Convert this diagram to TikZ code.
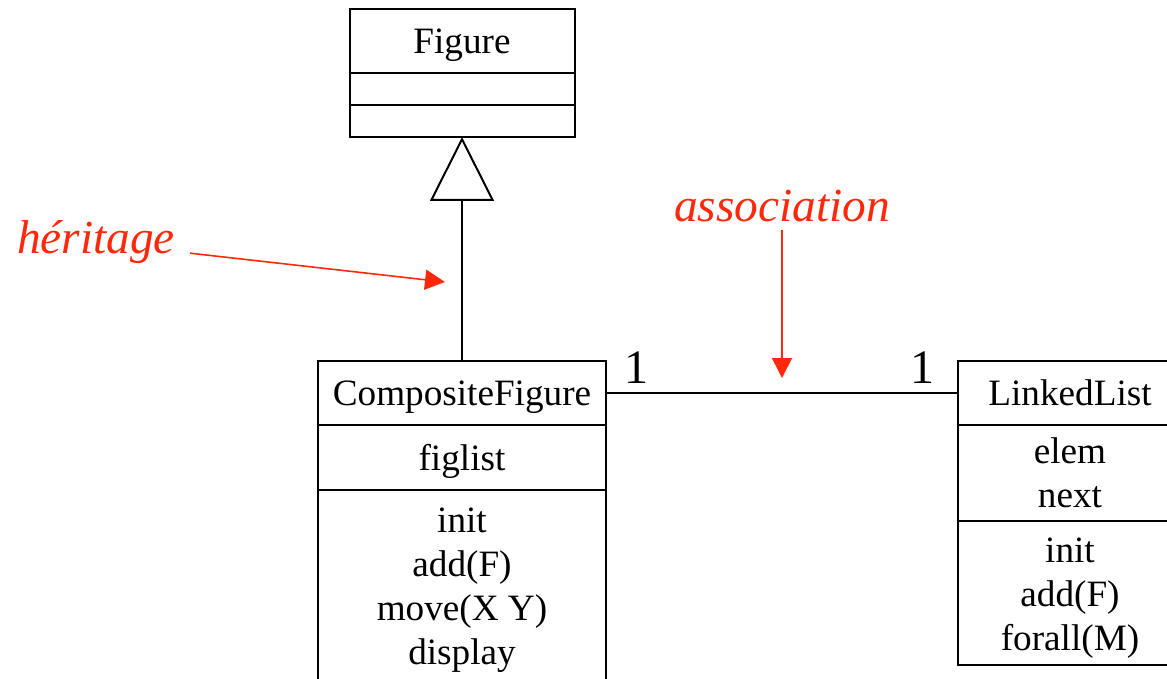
\documentclass[tikz,border=0pt]{standalone}
\usepackage{fontspec}
\setmainfont{Liberation Serif}
\usetikzlibrary{arrows.meta, positioning}
\definecolor{notered}{RGB}{255,40,10}
\newcommand{\topstrut}{\rule{0pt}{17pt}}

\begin{document}
\begin{tikzpicture}[
    x=0.5pt, y=-0.5pt,
    node distance=0pt,
    part/.style={rectangle, draw, line width=1pt, outer sep=0pt, inner sep=2pt, align=center, font=\fontsize{18.6}{22}\selectfont},
    mult/.style={anchor=base, font=\fontsize{24}{28}\selectfont},
    note/.style={anchor=base, text=notered, font=\fontsize{23.7}{28}\selectfont\itshape},
    notearrow/.style={draw=notered, line width=0.8pt, -{Triangle[length=10pt,width=10pt]}},
    inherit/.style={line width=1pt, -{Triangle[open,length=32pt,width=32pt]}},
    link/.style={line width=1pt}
]
\useasboundingbox (0,0) rectangle (1167,679);

% Figure
\node[part, minimum width=112.5pt, minimum height=32pt] (fig) at (462,41) {\topstrut Figure};
\node[part, minimum width=112.5pt, minimum height=16pt, below=of fig] (figattr) {};
\node[part, minimum width=112.5pt, minimum height=16pt, below=of figattr] (figops) {};

% CompositeFigure
\node[part, minimum width=144pt, minimum height=32pt] (comp) at (462,393) {\topstrut CompositeFigure};
\node[part, minimum width=144pt, minimum height=32.5pt, below=of comp] (compattr) {\topstrut figlist};
\node[part, minimum width=144pt, minimum height=95.5pt, below=of compattr] (compops) {\topstrut init\\add(F)\\move(X Y)\\display};

% LinkedList
\node[part, minimum width=112pt, minimum height=32pt] (list) at (1070,393) {LinkedList};
\node[part, minimum width=112pt, minimum height=48pt, below=of list] (listattr) {elem\\next};
\node[part, minimum width=112pt, minimum height=72pt, below=of listattr] (listops) {\topstrut init\\add(F)\\forall(M)};

% connectors
\draw[inherit] (comp.north) -- (figops.south);
\draw[link] (comp.east) -- (list.west);
\node[mult] (m1) at (636,383) {1};
\node[mult] (m2) at (922,383) {1};

% notes
\node[note] (herit) at (96,254) {héritage};
\coordinate (heritTip) at (445,282);
\draw[notearrow, shorten <=4pt] (herit) -- (heritTip);

\node[note] (assoc) at (782,222) {association};
\coordinate (assocTip) at (782,378);
\draw[notearrow] (assoc.south) -- (assocTip);

\end{tikzpicture}
\end{document}
